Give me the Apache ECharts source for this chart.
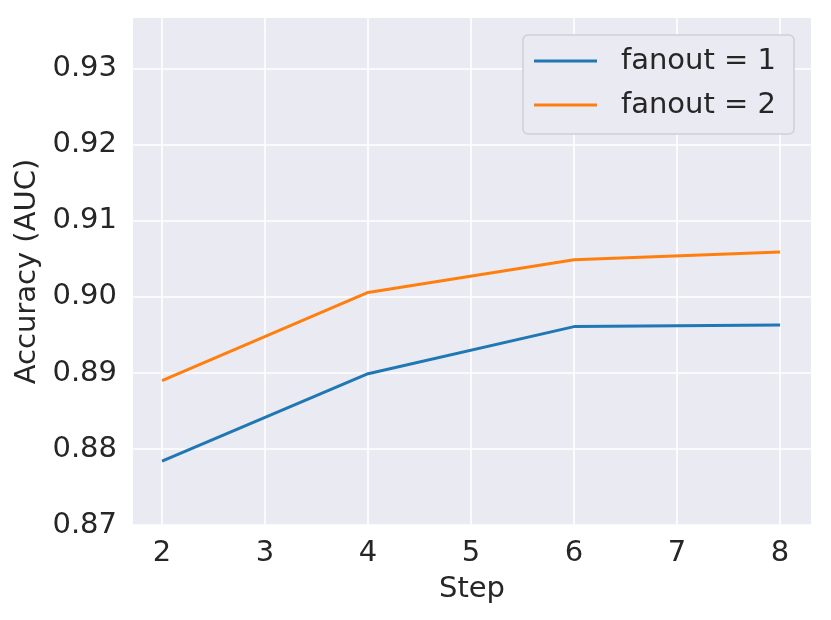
<!DOCTYPE html>
<html>
<head>
    <meta charset="utf-8">
    <title>fanout accuracy</title>
    <script src="https://cdn.jsdelivr.net/npm/echarts@6/dist/echarts.min.js"></script>
    <style>
        html, body { margin: 0; padding: 0; background: #ffffff; }
        #main { width: 831px; height: 620px; }
    </style>
</head>
<body>
<div id="main"></div>
<script>
// values
var steps = [2, 4, 6, 8];
var fanout1 = [0.8784, 0.8899, 0.8961, 0.8963];
var fanout2 = [0.8890, 0.9006, 0.9049, 0.9059];
var xTicks = [2, 3, 4, 5, 6, 7, 8];
var yTicks = [0.87, 0.88, 0.89, 0.90, 0.91, 0.92, 0.93];

var seriesNames = ['fanout = 1', 'fanout = 2'];

function pairs(xs, ys) {
    var out = [];
    for (var i = 0; i < xs.length; i++) out.push([xs[i], ys[i]]);
    return out;
}

var chart = echarts.init(document.getElementById('main'), null, {renderer: 'canvas'});
var txt = '#262626';
var font = 'DejaVu Sans';

var option = {
    animation: false,
    backgroundColor: '#ffffff',
    textStyle: {fontFamily: font, color: txt},
    grid: {
        left: 133, right: 20, top: 18, bottom: 95,
        show: true, backgroundColor: '#EAEAF2', borderWidth: 0
    },
    legend: {
        left: 523, top: 35,
        orient: 'vertical',
        data: seriesNames,
        icon: 'rect',
        itemWidth: 63, itemHeight: 3, itemGap: 14,
        padding: [11, 18, 14, 11],
        backgroundColor: '#EAEAF2',
        borderColor: '#cfcfd4', borderWidth: 1.5, borderRadius: 5,
        textStyle: {fontFamily: font, fontSize: 29, color: txt, lineHeight: 30, padding: [0, 0, 0, 19]}
    },
    xAxis: {
        type: 'value',
        min: 1.718, max: 8.30,
        name: 'Step', nameLocation: 'middle', nameGap: 50,
        nameTextStyle: {fontFamily: font, fontSize: 29, color: txt},
        axisLine: {show: false},
        axisTick: {show: false, customValues: xTicks},
        axisLabel: {customValues: xTicks, fontFamily: font, fontSize: 29, color: txt, margin: 14},
        splitLine: {show: true, lineStyle: {color: '#ffffff', width: 1.6}}
    },
    yAxis: {
        type: 'value',
        min: 0.87, max: 0.9367,
        name: 'Accuracy (AUC)', nameLocation: 'middle', nameGap: 90,
        nameTextStyle: {fontFamily: font, fontSize: 29, color: txt},
        axisLine: {show: false},
        axisTick: {show: false, customValues: yTicks},
        axisLabel: {
            customValues: yTicks, fontFamily: font, fontSize: 29, color: txt, margin: 16,
            formatter: function (v) { return v.toFixed(2); }
        },
        splitLine: {show: true, lineStyle: {color: '#ffffff', width: 1.6}}
    },
    series: [
        {
            name: seriesNames[0], type: 'line', data: pairs(steps, fanout1),
            symbol: 'none', color: '#1f77b4', lineStyle: {width: 3, color: '#1f77b4'}
        },
        {
            name: seriesNames[1], type: 'line', data: pairs(steps, fanout2),
            symbol: 'none', color: '#ff7f0e', lineStyle: {width: 3, color: '#ff7f0e'}
        }
    ]
};
chart.setOption(option);
</script>
</body>
</html>
